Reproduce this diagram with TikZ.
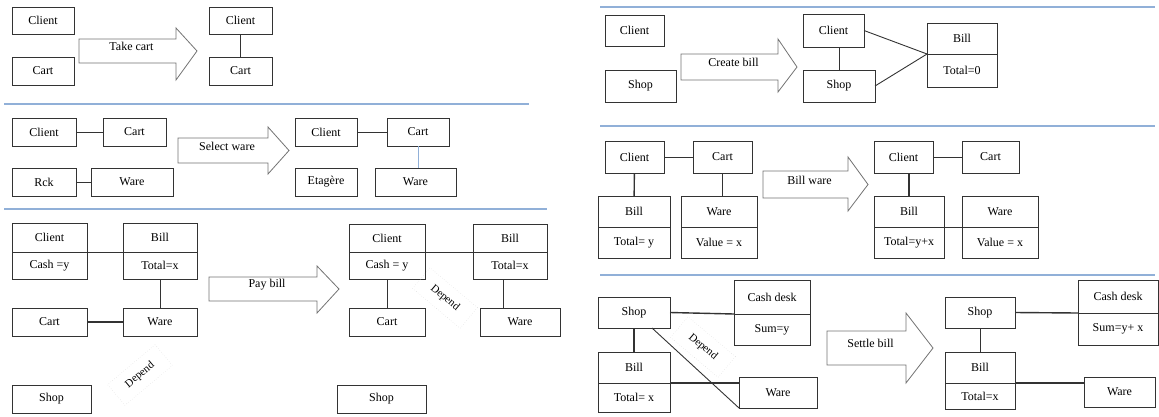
\documentclass[tikz,border=0pt]{standalone}
\usepackage{fontspec}
\setmainfont{Liberation Serif}
\usetikzlibrary{positioning}
\definecolor{rulecol}{RGB}{145,176,216}

\begin{document}
\begin{tikzpicture}[x=1pt,y=-1pt,
    umlbox/.style 2 args={draw=black!80,line width=0.9pt,outer sep=0pt,inner sep=0pt,
      minimum width=#1pt,minimum height=#2pt,font=\fontsize{12}{14}\selectfont},
    link/.style={draw=black!80,line width=0.9pt},
    boldlink/.style={draw=black!80,line width=1.4pt},
    thicklink/.style={draw=black!80,line width=1.9pt},
    steparrow/.style={draw=black!55,line width=0.8pt,fill=white},
    rulesep/.style={draw=rulecol,line width=1.2pt},
    dependtag/.style={draw=black!18,dotted,font=\fontsize{11}{13}\selectfont,
      minimum width=62pt,minimum height=27pt}]
  \useasboundingbox (0,0) rectangle (1159,416);

  % separators
  \draw[rulesep] (4,104) -- (529,104);
  \draw[rulesep] (4,209) -- (547,209);
  \draw[rulesep] (600,7) -- (1155,7);
  \draw[rulesep] (600,126) -- (1155,126);
  \draw[rulesep] (600,275) -- (1155,275);

  % step arrows
  \foreach \l/\h/\t/\yt/\yb/\ht/\hb/\nm/\txt in {79/176/197/39/63/28/80/takecart/Take cart,
      178/268/289/138/163/127/174/selectware/Select ware,
      209/317/339/277/301/266/313/paybill/Pay bill,
      681/778/797/54/80/39/92/createbill/Create bill,
      763/848/868/171/198/157/211/billware/Bill ware,
      827/906/933/331/365/313/383/settlebill/Settle bill}{
    \draw[steparrow] (\l,\yt) -- (\h,\yt) -- (\h,\ht) -- (\t,{(\yt+\yb)/2})
      -- (\h,\hb) -- (\h,\yb) -- (\l,\yb) -- cycle;
    \node[font=\fontsize{12}{14}\selectfont] (\nm) at ({(\l+\h)/2+4},{(\yt+\yb)/2}) {\txt};
  }

  % take cart
  \node[umlbox={62}{27}] (client1l) at (43,20.5) {Client};
  \node[umlbox={62}{28}] (cart1l) at (43,71) {Cart};
  \node[umlbox={63}{27}] (client1r) at (240.5,20.5) {Client};
  \node[umlbox={63}{28}] (cart1r) at (240.5,71) {Cart};
  \draw[link] (client1r) -- (cart1r);

  % select ware
  \node[umlbox={64}{28}] (client2l) at (44,132) {Client};
  \node[umlbox={63}{28}] (cart2l) at (134.5,132) {Cart};
  \node[umlbox={64}{28}] (rack2l) at (44,182) {Rck};
  \node[umlbox={82}{28}] (ware2l) at (132,182) {Ware};
  \draw[link] (client2l) -- (cart2l);
  \draw[link] (rack2l) -- (ware2l);
  \node[umlbox={62}{28}] (client2r) at (326,132) {Client};
  \node[umlbox={62}{28}] (cart2r) at (418,132) {Cart};
  \node[umlbox={62}{28}] (shelf2r) at (326,182) {Etagère};
  \node[umlbox={81}{28}] (ware2r) at (415.5,182) {Ware};
  \draw[link] (client2r) -- (cart2r);
  \draw[link,draw=rulecol] (cart2r.south) -- (cart2r.south |- ware2r.north);

  % pay bill
  \node[umlbox={75}{29}] (client3l) at (49.5,237.5) {Client};
  \node[umlbox={75}{27},below=0pt of client3l] (cash3l) {Cash =y};
  \node[umlbox={74}{29}] (bill3l) at (160,237.5) {Bill};
  \node[umlbox={74}{27},below=0pt of bill3l] (total3l) {Total=x};
  \node[umlbox={75}{28}] (cart3l) at (49.5,322) {Cart};
  \node[umlbox={74}{28}] (ware3l) at (160,322) {Ware};
  \node[umlbox={79}{28}] (shop3l) at (51.5,399) {Shop};
  \draw[link] (client3l.south east) -- (bill3l.south west);
  \draw[link] (total3l) -- (ware3l);
  \draw[thicklink] (cart3l) -- (ware3l);
  \node[dependtag,rotate=40] (depend3l) at (140,375) {Depend};
  \node[umlbox={76}{28}] (client3r) at (387,238) {Client};
  \node[umlbox={76}{27},below=0pt of client3r] (cash3r) {Cash = y};
  \node[umlbox={74}{28}] (bill3r) at (510,238) {Bill};
  \node[umlbox={74}{27},below=0pt of bill3r] (total3r) {Total=x};
  \node[umlbox={76}{28}] (cart3r) at (387,322) {Cart};
  \node[umlbox={80}{28}] (ware3r) at (520,322) {Ware};
  \node[umlbox={89}{28}] (shop3r) at (381.5,399) {Shop};
  \draw[link] (client3r.south east) -- (bill3r.south west);
  \draw[link] (cash3r) -- (cart3r);
  \draw[link] ([xshift=-7pt]total3r.south) -- ([xshift=-7pt]total3r.south |- ware3r.north);
  \node[dependtag,rotate=-40] (depend3r) at (445,298) {Depend};

  % create bill
  \node[umlbox={59}{31}] (client4l) at (634.5,30.5) {Client};
  \node[umlbox={71}{32}] (shop4l) at (640.5,86) {Shop};
  \node[umlbox={61}{33}] (client4r) at (833.5,30.5) {Client};
  \node[umlbox={72}{32}] (shop4r) at (839,86) {Shop};
  \node[umlbox={70}{31}] (bill4r) at (962,38.5) {Bill};
  \node[umlbox={70}{33},below=0pt of bill4r] (total4r) {Total=0};
  \draw[link] (shop4r.north) -- (shop4r.north |- client4r.south);
  \draw[link] (client4r.east) -- (bill4r.south west);
  \draw[link] (shop4r.east) -- (bill4r.south west);

  % bill ware
  \node[umlbox={59}{32}] (client5l) at (634.5,157) {Client};
  \node[umlbox={59}{32}] (cart5l) at (722.5,157) {Cart};
  \node[umlbox={72}{31}] (bill5l) at (634,211.5) {Bill};
  \node[umlbox={72}{31},below=0pt of bill5l] (total5l) {Total= y};
  \node[umlbox={76}{31}] (ware5l) at (719,211.5) {Ware};
  \node[umlbox={76}{31},below=0pt of ware5l] (value5l) {Value = x};
  \draw[link] (client5l) -- (cart5l);
  \draw[boldlink] (client5l) -- (bill5l);
  \draw[boldlink] (cart5l.south) -- (cart5l.south |- ware5l.north);
  \node[umlbox={59}{32}] (client5r) at (903.5,157) {Client};
  \node[umlbox={57}{32}] (cart5r) at (990.5,157) {Cart};
  \node[umlbox={70}{31}] (bill5r) at (909,211.5) {Bill};
  \node[umlbox={70}{31},below=0pt of bill5r] (total5r) {Total=y+x};
  \node[umlbox={76}{31}] (ware5r) at (1000,211.5) {Ware};
  \node[umlbox={76}{31},below=0pt of ware5r] (value5r) {Value = x};
  \draw[link] (client5r) -- (cart5r);
  \draw[boldlink] (bill5r.north) -- (bill5r.north |- client5r.south);
  \draw[link] (bill5r.south east) -- (ware5r.south west);

  % settle bill
  \node[umlbox={72}{31}] (shop6l) at (634,312.5) {Shop};
  \node[umlbox={76}{34}] (desk6l) at (772,297) {Cash desk};
  \node[umlbox={76}{31},below=0pt of desk6l] (sum6l) {Sum=y};
  \node[umlbox={72}{31}] (bill6l) at (634,367.5) {Bill};
  \node[umlbox={72}{29},below=0pt of bill6l] (total6l) {Total= x};
  \node[umlbox={78}{31}] (ware6l) at (778,392.5) {Ware};
  \draw[boldlink] (shop6l.east) -- (desk6l.south west);
  \draw[boldlink] (shop6l) -- (bill6l);
  \draw[boldlink] (bill6l.south east) -- (bill6l.south east -| ware6l.west);
  \draw[link] ([xshift=18pt]shop6l.south) -- (ware6l.south west);
  \node[dependtag,rotate=-40] (depend6l) at (703,347) {Depend};
  \node[umlbox={70}{31}] (shop6r) at (980,312.5) {Shop};
  \node[umlbox={80}{33}] (desk6r) at (1118,296.5) {Cash desk};
  \node[umlbox={80}{32},below=0pt of desk6r] (sum6r) {Sum=y+ x};
  \node[umlbox={70}{31}] (bill6r) at (980,367.5) {Bill};
  \node[umlbox={70}{26},below=0pt of bill6r] (total6r) {Total=x};
  \node[umlbox={71}{30}] (ware6r) at (1119.5,392) {Ware};
  \draw[boldlink] (shop6r.east) -- (desk6r.south west);
  \draw[link] (shop6r) -- (bill6r);
  \draw[boldlink] (bill6r.south east) -- (bill6r.south east -| ware6r.west);
\end{tikzpicture}
\end{document}
